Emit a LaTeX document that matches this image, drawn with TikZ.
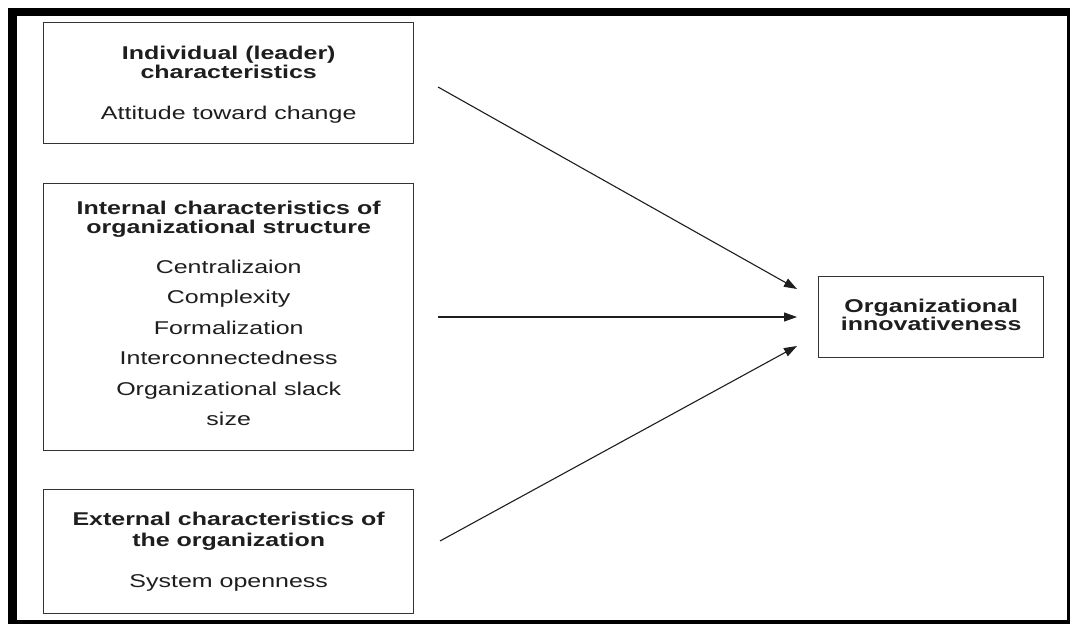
\documentclass[tikz,border=0pt]{standalone}
\usepackage{fontspec}
\setmainfont[FakeStretch=1.35]{Liberation Sans}
\usetikzlibrary{arrows.meta,calc}
\definecolor{ink}{HTML}{1E1E1E}
\definecolor{edge}{HTML}{333333}
\begin{document}
\begin{tikzpicture}[x=1pt,y=-1pt,
  box/.style={draw=edge, line width=1.4pt, fill=white, inner sep=0pt, anchor=north west},
  txt/.style={inner sep=0pt, anchor=north, align=center, text=ink,
              font=\fontsize{18.5}{19}\selectfont},
  link/.style={draw=ink, line width=1.1pt, -{Triangle[length=13pt,width=9pt]}}]

% page and heavy outer frame
\fill[white] (0,0) rectangle (1070,624);
\fill[black] (8,8) rectangle (1070,624);
\fill[white] (17,16) rectangle (1067,620);

% boxes
\node[box, minimum width=370pt, minimum height=121pt] (b1) at (43,22) {};
\node[box, minimum width=370pt, minimum height=267pt] (b2) at (43,183) {};
\node[box, minimum width=370pt, minimum height=124pt] (b3) at (43,489) {};
\node[box, minimum width=225pt, minimum height=81pt] (b4) at (818,276) {};

% box texts
\node[txt] (t1) at ($(b1.north)+(0,23.5)$)
  {\textbf{Individual (leader)}\\\textbf{characteristics}\\[22.5pt]Attitude toward change};
\node[txt] (t2) at ($(b2.north)+(0,17.5)$)
  {\textbf{Internal characteristics of}\\\textbf{organizational structure}\\[21pt]%
   Centralizaion\\[11.5pt]Complexity\\[11.5pt]Formalization\\[11.5pt]%
   Interconnectedness\\[11.5pt]Organizational slack\\[11.5pt]size};
\node[txt] (t3) at ($(b3.north)+(0,22.5)$)
  {\textbf{External characteristics of}\\[2pt]\textbf{the organization}\\[22pt]System openness};
\node[txt] (t4) at ($(b4.north)+(0,22.5)$)
  {\textbf{Organizational}\\[-1pt]\textbf{innovativeness}};

% arrow ends, kept clear of the boxes
\coordinate (s1) at (438,87);
\coordinate (e1) at (797,289);
\coordinate (s2) at (438,317);
\coordinate (e2) at (797,317);
\coordinate (s3) at (440,541);
\coordinate (e3) at (797,346);

\draw[link] (s1) -- (e1);
\draw[link] (s2) -- (e2);
\draw[link] (s3) -- (e3);
\end{tikzpicture}
\end{document}
